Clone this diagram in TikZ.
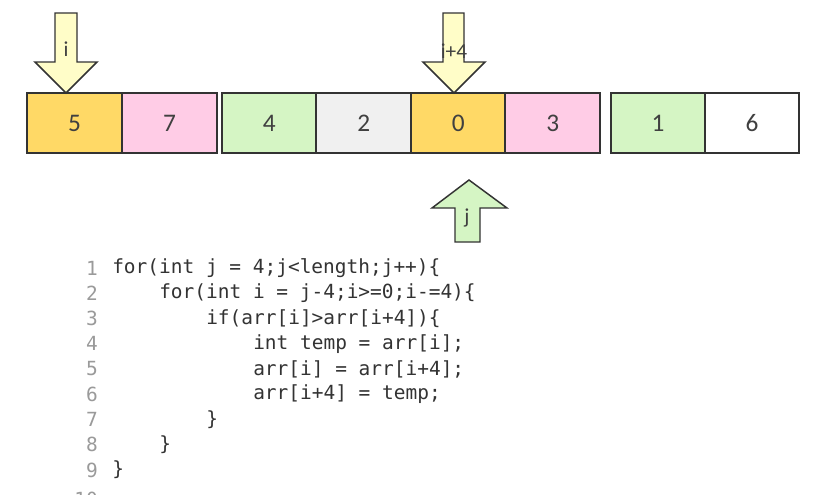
\documentclass[tikz,border=0pt]{standalone}
\usepackage{fontspec}
\setmainfont{Carlito}
\newfontfamily\codefont{DejaVu Sans Mono}
\definecolor{cgold}{HTML}{FFD966}
\definecolor{cpink}{HTML}{FFCCE6}
\definecolor{cgreen}{HTML}{D5F5C4}
\definecolor{cgray}{HTML}{F0F0F0}
\definecolor{cline}{HTML}{333333}
\definecolor{cyell}{HTML}{FFFDC8}
\definecolor{ctext}{HTML}{404040}
\definecolor{cnum}{HTML}{9A9A9A}
\tikzset{
  cell/.style={draw=cline, line width=1.5pt, rectangle, minimum height=45pt, inner sep=0pt,
    font=\fontsize{19}{22}\selectfont, text=ctext},
  ptr/.style={draw=cline, line width=1.1pt, line join=miter},
  ptrlabel/.style={font=\fontsize{16}{18}\selectfont, text=ctext, inner sep=0pt},
  codeline/.style={anchor=west, inner sep=0pt, font=\codefont\fontsize{14.6}{17}\selectfont, text=cline},
  lnum/.style={anchor=east, inner sep=0pt, font=\codefont\fontsize{14.6}{17}\selectfont, text=cnum},
}
\begin{document}
\begin{tikzpicture}[x=0.75pt,y=-0.75pt]
\useasboundingbox (0,0) rectangle (818,494);
\clip (0,0) rectangle (818,494);
\fill[white] (0,0) rectangle (818,494);
% cells
\node[cell, fill=cgold,  minimum width=71.25pt] (c1) at (74.5,123) {5};
\node[cell, fill=cpink,  minimum width=71.25pt] (c2) at (169.5,123) {7};
\node[cell, fill=cgreen, minimum width=70.9pt] (c3) at (269.25,123) {4};
\node[cell, fill=cgray,  minimum width=70.9pt] (c4) at (363.75,123) {2};
\node[cell, fill=cgold,  minimum width=70.9pt] (c5) at (458.25,123) {0};
\node[cell, fill=cpink,  minimum width=70.9pt] (c6) at (552.75,123) {3};
\node[cell, fill=cgreen, minimum width=70.5pt] (c7) at (658,123) {1};
\node[cell, fill=white,  minimum width=70.5pt] (c8) at (752,123) {6};
% pointer i
\draw[ptr, fill=cyell] (55,13) -- (77,13) -- (77,62) -- (97,62) -- (66,93) -- (35,62) -- (55,62) -- cycle;
\node[ptrlabel] (li) at (66,49) {i};
% pointer i+4
\draw[ptr, fill=cyell] (443,13) -- (464,13) -- (464,62) -- (485,62) -- (454,93) -- (423,62) -- (443,62) -- cycle;
\node[ptrlabel] (li4) at (454,51) {i+4};
% pointer j
\draw[ptr, fill=cgreen] (469,180) -- (507,208) -- (480,208) -- (480,242) -- (455,242) -- (455,208) -- (432,208) -- cycle;
\node[ptrlabel] (lj) at (467,218) {j};
% code
\node[lnum] (n1) at (98,268) {1};
\node[lnum] (n2) at (98,293.25) {2};
\node[lnum] (n3) at (98,318.5) {3};
\node[lnum] (n4) at (98,343.75) {4};
\node[lnum] (n5) at (98,369) {5};
\node[lnum] (n6) at (98,394.25) {6};
\node[lnum] (n7) at (98,419.5) {7};
\node[lnum] (n8) at (98,444.75) {8};
\node[lnum] (n9) at (98,470) {9};
\node[lnum] (n10) at (98,499) {10};
\node[codeline] (k1) at (112,268) {for(int j = 4;j<length;j++)\{};
\node[codeline] (k2) at (159,293.25) {for(int i = j-4;i>=0;i-=4)\{};
\node[codeline] (k3) at (206,318.5) {if(arr[i]>arr[i+4])\{};
\node[codeline] (k4) at (253,343.75) {int temp = arr[i];};
\node[codeline] (k5) at (253,369) {arr[i] = arr[i+4];};
\node[codeline] (k6) at (253,394.25) {arr[i+4] = temp;};
\node[codeline] (k7) at (206,419.5) {\}};
\node[codeline] (k8) at (159,444.75) {\}};
\node[codeline] (k9) at (112,470) {\}};
\end{tikzpicture}
\end{document}
